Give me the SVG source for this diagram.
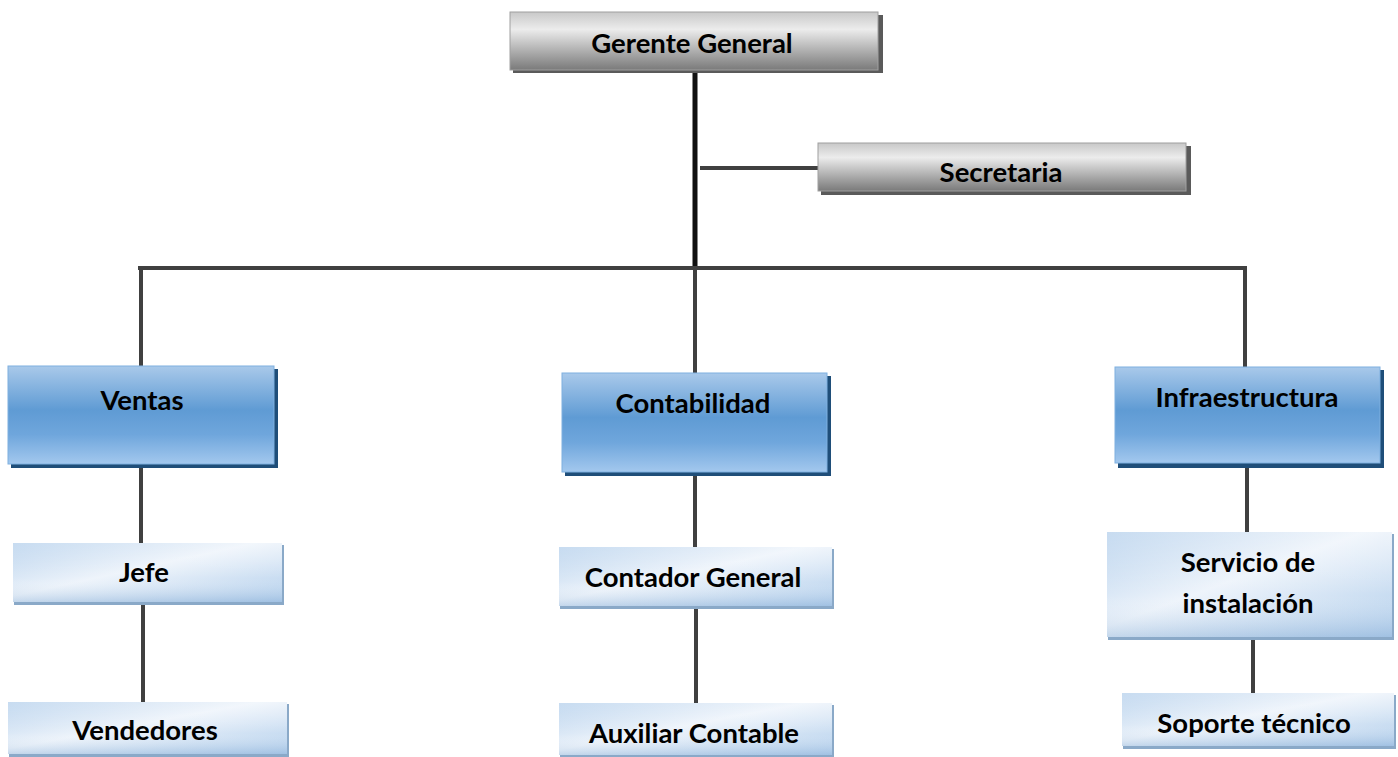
<svg xmlns="http://www.w3.org/2000/svg" width="1398" height="757" viewBox="0 0 1398 757">
<defs>
<linearGradient id="gray" x1="0" y1="0" x2="0" y2="1">
<stop offset="0" stop-color="#c8c8c8"/>
<stop offset="0.3" stop-color="#ececec"/>
<stop offset="0.7" stop-color="#aaaaaa"/>
<stop offset="1" stop-color="#7a7a7a"/>
</linearGradient>
<linearGradient id="blue" x1="0" y1="0" x2="0" y2="1">
<stop offset="0" stop-color="#a9c9ea"/>
<stop offset="0.45" stop-color="#5f9bd4"/>
<stop offset="0.7" stop-color="#6fa6dc"/>
<stop offset="1" stop-color="#a3c8ee"/>
</linearGradient>
<linearGradient id="light" x1="0" y1="0" x2="1" y2="1">
<stop offset="0" stop-color="#b5d0ec"/>
<stop offset="0.45" stop-color="#eef4fb"/>
<stop offset="1" stop-color="#b3cfec"/>
</linearGradient>
<linearGradient id="lightv" x1="0" y1="0" x2="0" y2="1">
<stop offset="0" stop-color="#ffffff" stop-opacity="0.25"/>
<stop offset="0.6" stop-color="#ffffff" stop-opacity="0"/>
<stop offset="1" stop-color="#7ea6d0" stop-opacity="0.35"/>
</linearGradient>
</defs>
<style>
.t{font-family:Lato,"Liberation Sans",sans-serif;font-weight:bold;font-size:27.5px;fill:#000;text-anchor:middle}
.c{stroke:#404040;stroke-width:4;fill:none}
.gs{fill:#5a5a5a}
.bs{fill:#1f4e79}
.ls{fill:#8aa9c8}
.g{fill:url(#gray);stroke:#a0a0a0;stroke-width:1}
.b{fill:url(#blue);stroke:#7fb0e0;stroke-width:1}
.l{fill:url(#light)}
.lv{fill:url(#lightv)}
</style>
<rect width="1398" height="757" fill="#fff"/>
<g id="connectors">
<line class="c" x1="695" y1="72" x2="695" y2="268" style="stroke:#111;stroke-width:5"/>
<line class="c" x1="700" y1="168" x2="818" y2="168"/>
<line class="c" x1="138" y1="268" x2="1247" y2="268"/>
<line class="c" x1="141" y1="268" x2="141" y2="366"/>
<line class="c" x1="695" y1="268" x2="695" y2="373"/>
<line class="c" x1="1245" y1="268" x2="1245" y2="367"/>
<line class="c" x1="141" y1="468" x2="141" y2="543"/>
<line class="c" x1="143" y1="603" x2="143" y2="702"/>
<line class="c" x1="695" y1="476" x2="695" y2="547"/>
<line class="c" x1="696" y1="608" x2="696" y2="703"/>
<line class="c" x1="1247" y1="468" x2="1247" y2="532"/>
<line class="c" x1="1253" y1="638" x2="1253" y2="693"/>
</g>
<g id="gerente">
<rect class="gs" x="513" y="15" width="370" height="58"/>
<rect class="g" x="510" y="12" width="368" height="58"/>
<text class="t" x="692" y="53">Gerente General</text>
</g>
<g id="secretaria">
<rect class="gs" x="821" y="146" width="370" height="49"/>
<rect class="g" x="818" y="143" width="368" height="48"/>
<text class="t" x="1001" y="182">Secretaria</text>
</g>
<g id="ventas">
<rect class="bs" x="11" y="369" width="267" height="99"/>
<rect class="b" x="8" y="366" width="266" height="98"/>
<text class="t" x="142" y="410">Ventas</text>
</g>
<g id="contabilidad">
<rect class="bs" x="565" y="376" width="266" height="100"/>
<rect class="b" x="562" y="373" width="265" height="99"/>
<text class="t" x="693" y="413">Contabilidad</text>
</g>
<g id="infraestructura">
<rect class="bs" x="1118" y="370" width="266" height="98"/>
<rect class="b" x="1115" y="367" width="265" height="96"/>
<text class="t" x="1247" y="407">Infraestructura</text>
</g>
<g id="jefe">
<rect class="ls" x="14" y="545" width="270" height="60"/>
<rect class="l" x="13" y="543" width="269" height="59"/>
<rect class="lv" x="13" y="543" width="269" height="59"/>
<text class="t" x="144" y="582">Jefe</text>
</g>
<g id="vendedores">
<rect class="ls" x="9" y="704" width="280" height="53"/>
<rect class="l" x="8" y="702" width="279" height="52"/>
<rect class="lv" x="8" y="702" width="279" height="52"/>
<text class="t" x="145" y="740">Vendedores</text>
</g>
<g id="contador">
<rect class="ls" x="560" y="549" width="274" height="60"/>
<rect class="l" x="559" y="547" width="273" height="59"/>
<rect class="lv" x="559" y="547" width="273" height="59"/>
<text class="t" x="693" y="587">Contador General</text>
</g>
<g id="auxiliar">
<rect class="ls" x="560" y="705" width="274" height="52"/>
<rect class="l" x="559" y="703" width="273" height="52"/>
<rect class="lv" x="559" y="703" width="273" height="52"/>
<text class="t" x="694" y="743">Auxiliar Contable</text>
</g>
<g id="servicio">
<rect class="ls" x="1108" y="534" width="286" height="106"/>
<rect class="l" x="1107" y="532" width="285" height="105"/>
<rect class="lv" x="1107" y="532" width="285" height="105"/>
<text class="t" x="1248" y="572">Servicio de</text>
<text class="t" x="1248" y="613">instalación</text>
</g>
<g id="soporte">
<rect class="ls" x="1123" y="695" width="273" height="54"/>
<rect class="l" x="1122" y="693" width="272" height="53"/>
<rect class="lv" x="1122" y="693" width="272" height="53"/>
<text class="t" x="1254" y="733">Soporte técnico</text>
</g>
</svg>
